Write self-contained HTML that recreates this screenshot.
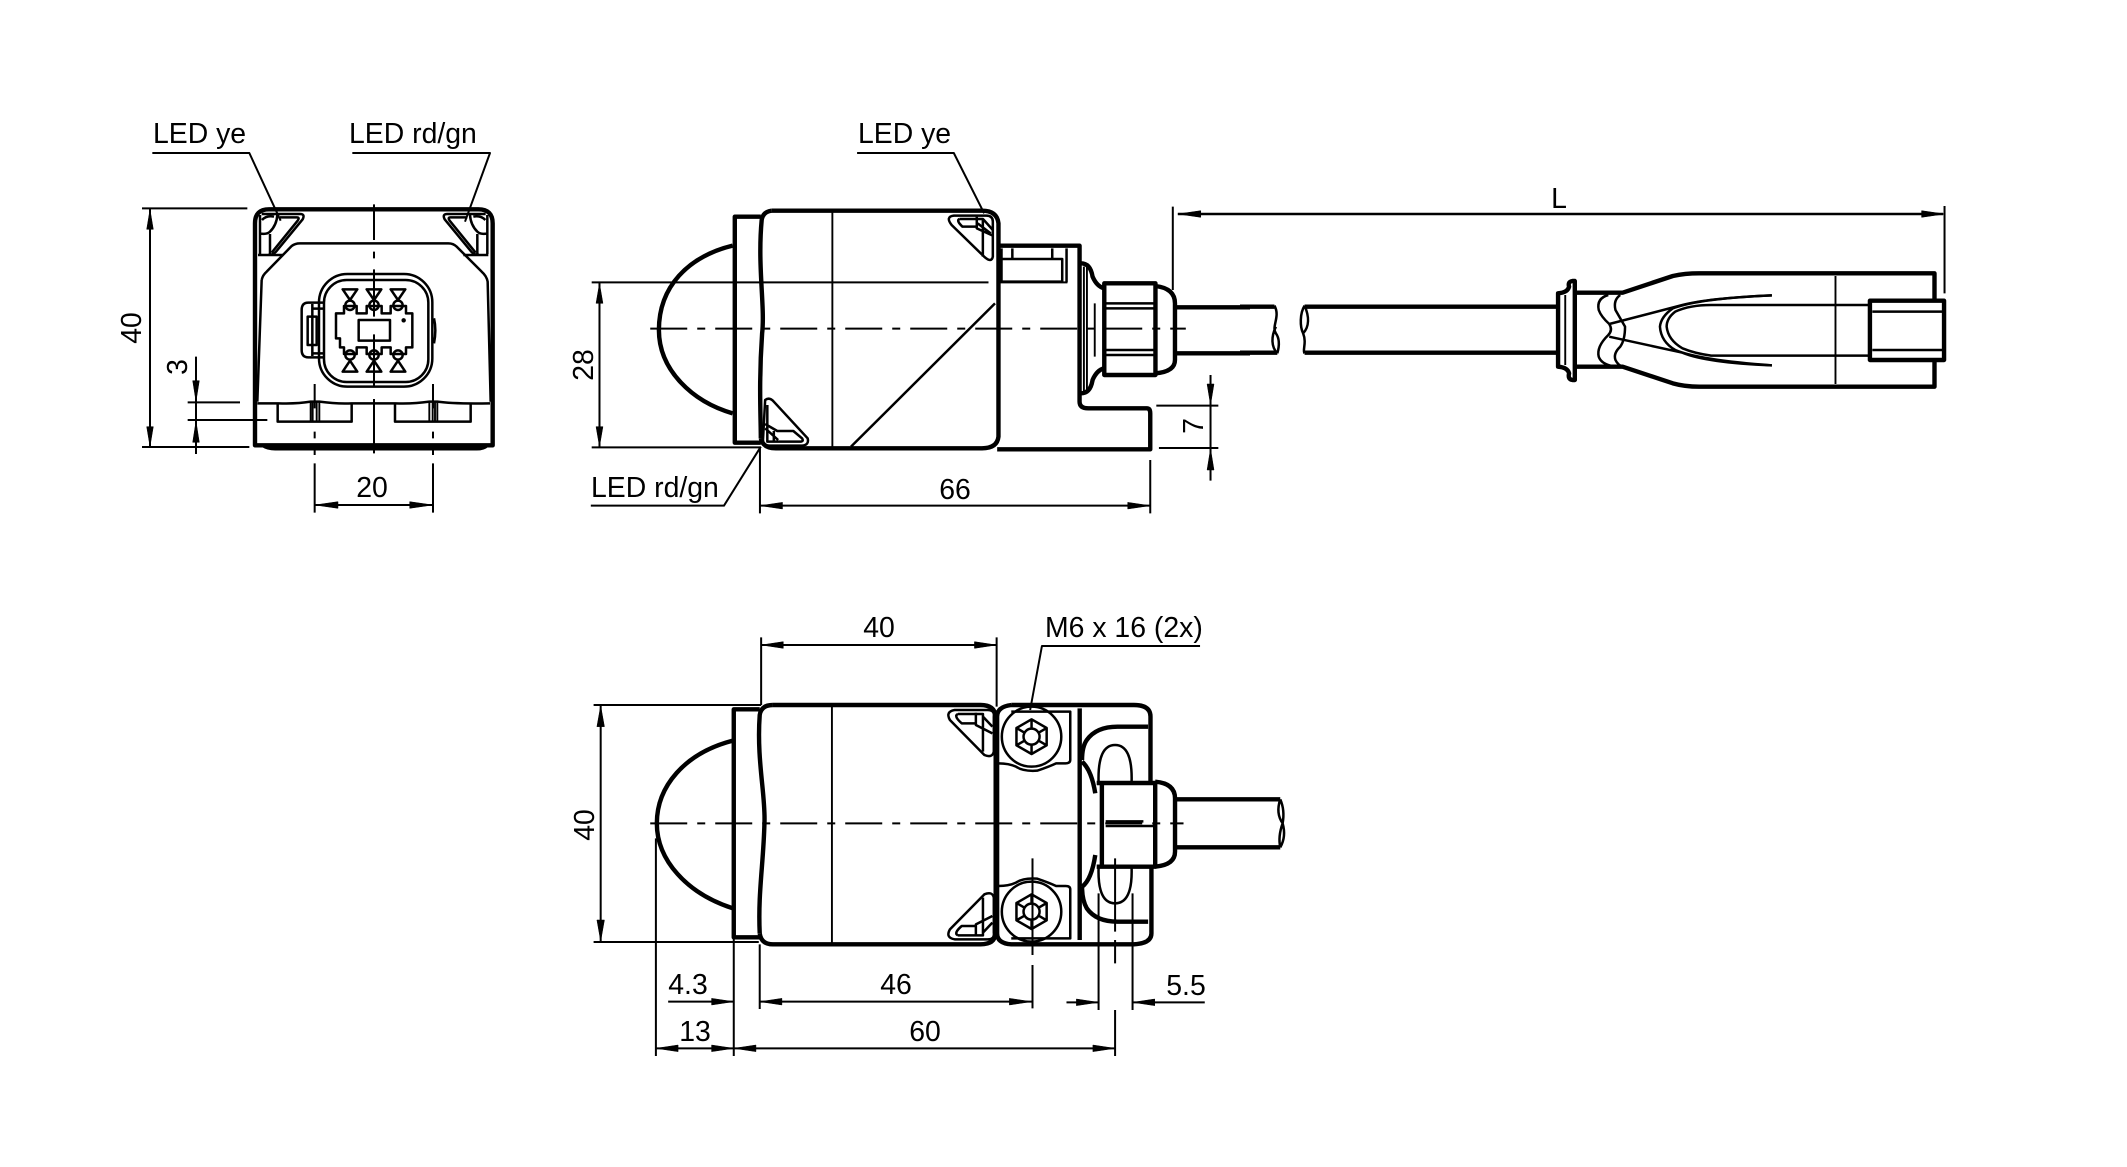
<!DOCTYPE html>
<html><head><meta charset="utf-8"><style>
html,body{margin:0;padding:0;background:#fff}
svg{display:block}
path,rect,ellipse,line{vector-effect:non-scaling-stroke;fill:none;stroke:#000;stroke-linejoin:round}
.k{stroke-width:4.4}
.m{stroke-width:2.5}
.t{stroke-width:1.9}
.d{stroke-width:2}
.a{fill:#000;stroke:#000;stroke-width:.5}
text{font-family:"Liberation Sans",sans-serif;font-size:28.4px;fill:#000}
</style></head><body>
<svg width="2127" height="1167" viewBox="0 0 2127 1167" xmlns="http://www.w3.org/2000/svg">
<rect x="0" y="0" width="2127" height="1167" style="fill:#fff;stroke:none"/>

<!-- FRONT VIEW -->
<g transform="translate(120,100) scale(.33333)">
<path class="k" d="M405,1036V370Q405,328 447,328H1075Q1118,328 1118,370V1036Z"/>
<path class="k" d="M430,1036Q445,1046 470,1045H1070Q1090,1045 1100,1036"/>
<path class="m" d="M414,465H490M1030,465H1105"/>
<path class="m" d="M425,540Q428,525 440,515L515,438Q525,430 540,430H985Q1000,430 1010,440L1085,515Q1100,528 1103,545L1112,905M425,540L412,905"/>
<path class="m" d="M412,910H475Q530,912 572,905H598Q650,912 695,910H825Q880,912 928,905H952Q1000,912 1110,910"/>
<path class="m" d="M473,912V965H695V912M825,912V965H1052V912"/>
<path class="t" d="M572,905V962M578,905V962M590,905V962M598,905V962M928,905V962M938,905V962M945,905V962M952,905V962"/>
<!-- LED corner triangles -->
<path class="m" d="M425,342H540Q556,342 548,358L468,455Q458,466 445,464"/>
<path class="m" d="M480,352H530Q540,352 533,362L455,458"/>
<path class="m" d="M420,345V462M450,402V462M418,400Q440,405 450,395Q470,375 472,345M426,360Q440,345 462,350"/>
<path class="m" d="M1097,342H982Q966,342 974,358L1054,455Q1064,466 1077,464"/>
<path class="m" d="M1042,352H992Q982,352 989,362L1067,458"/>
<path class="m" d="M1102,345V462M1072,402V462M1104,400Q1082,405 1072,395Q1052,375 1050,345M1096,360Q1082,345 1060,350"/>
<!-- connector -->
<rect class="m" x="597" y="522" width="340" height="338" rx="85" ry="85"/>
<rect class="m" x="612" y="540" width="313" height="306" rx="68" ry="68"/>
<path class="m" d="M612,608H565Q545,608 545,630V750Q545,772 565,772H612"/>
<path class="m" d="M577,612V768M577,626H610M577,760H610M563,650H590V735H563Z"/>
<path class="m" d="M942,655Q950,690 942,730"/>
<path class="m" d="M668,568H712L690,600ZM740,568H784L762,600ZM812,568H856L834,600ZM668,815H712L690,782ZM740,815H784L762,782ZM812,815H856L834,782Z"/>
<ellipse class="m" cx="690" cy="616" rx="14" ry="14"/><ellipse class="m" cx="762" cy="616" rx="14" ry="14"/><ellipse class="m" cx="834" cy="616" rx="14" ry="14"/>
<ellipse class="m" cx="690" cy="765" rx="14" ry="14"/><ellipse class="m" cx="762" cy="765" rx="14" ry="14"/><ellipse class="m" cx="834" cy="765" rx="14" ry="14"/>
<path class="m" d="M648,640H672V618H710V640H740V618H785V640H812V618H858V640H877V742H858V762H812V742H785V762H740V742H710V762H672V742H660V715H648Z"/>
<rect class="m" x="716" y="660" width="94" height="62"/>
<ellipse cx="851" cy="661" rx="6" ry="6" class="a"/>
<!-- centre lines -->
<path class="d" d="M762,313V420M762,455V475M762,508V650M762,703V860M762,897V1060"/>
<path class="d" d="M584,852V925M584,995V1015M584,1045V1065M939,852V925M939,995V1015M939,1045V1065"/>
<!-- dims -->
<path class="d" d="M97,159H388L482,362M697,159H1110L1035,365"/>
<path class="d" d="M66,325H382M66,1041H388M90,328V1040"/>
<path class="a" d="M90,328L80,388H100ZM90,1040L80,980H100Z"/>
<path class="d" d="M228,770V1062M203,907H360M203,960H442"/>
<path class="a" d="M228,905L218,842H238ZM228,963L218,1027H238Z"/>
<path class="d" d="M584,1090V1238M939,1090V1238M584,1215H939"/>
<path class="a" d="M584,1215L654,1205V1225ZM939,1215L869,1205V1225Z"/>
</g>

<!-- SIDE VIEW -->
<g transform="translate(570,100) scale(.43367,.33333)">
<path class="k" d="M465,332H950Q985,332 988,370V1010Q985,1045 950,1045H475Q445,1045 440,1015"/>
<path class="k" d="M465,332Q445,335 442,360C432,500 450,620 443,700C435,850 440,950 440,1015"/>
<path class="k" d="M440,350H380V1028H440"/>
<path class="k" d="M375,437C272,470 205,560 205,690C205,810 282,905 375,940"/>
<path class="t" d="M605,332V1040"/>
<path class="m" d="M648,1040L980,610"/>
<path class="k" d="M988,437H1175V905Q1175,925 1195,925H1330Q1338,925 1338,940V1048H985"/>
<path class="m" d="M995,477H1135V545H995V445M1020,445V477M1112,445V477M1145,445V547"/>
<path class="k" d="M1178,490Q1200,490 1205,530Q1215,560 1232,565M1178,880Q1200,880 1205,840Q1215,810 1232,805"/>
<path class="t" d="M1185,500V875M1192,500V875M1210,610V770"/>
<rect class="k" x="1232" y="550" width="118" height="275"/>
<path class="m" d="M1232,610H1350M1232,625H1350M1232,750H1350M1232,765H1350"/>
<path class="k" d="M1350,558Q1395,565 1395,610V780Q1395,815 1350,820"/>
<path class="k" d="M1395,622H1568M1395,760H1568"/>
<!-- LEDs -->
<path class="m" d="M885,347H960Q975,347 975,365V470Q972,490 955,470L880,375Q865,350 885,347Z"/>
<path class="m" d="M898,357H952V470M898,357Q890,362 905,380H938M938,350V385L975,407M953,358L975,390M940,370L970,400"/>
<path class="m" d="M450,900Q460,890 470,905L548,1015Q552,1035 535,1037H460Q445,1037 445,1020Z"/>
<path class="m" d="M455,915V1025H530Q540,1025 535,1015L515,993H478L450,972M470,993V1025M450,985L480,1020"/>
<!-- centre line -->
<path class="d" stroke-dasharray="37 10 8 10" d="M185,686H1420"/>
<!-- dims -->
<path class="d" d="M50,547H965M990,547H1147M50,1042H440M68,547V1042"/>
<path class="a" d="M68,550L60,610H76ZM68,1040L60,980H76Z"/>
<path class="d" d="M662,159H885L955,340"/>
<path class="d" d="M48,1217H355L440,1040M438,1040V1240M1338,1080V1240M438,1217H1338"/>
<path class="a" d="M438,1217L490,1207V1227ZM1338,1217L1286,1207V1227Z"/>
<path class="d" d="M1390,320V570"/>
<path class="d" d="M1477,825V1142M1352,917H1495M1358,1044H1495"/>
<path class="a" d="M1477,915L1469,852H1485ZM1477,1046L1469,1110H1485Z"/>
</g>

<!-- CABLE END -->
<g transform="translate(1240,170) scale(.4783,.33333)">
<path class="m" d="M-130,132H1470"/>
<path class="a" d="M1473,132L1425,122V142Z"/>
<path class="a" d="M-130,132L-82,122V142Z"/>
<path class="d" d="M1473,108V370"/>
<path class="k" d="M0,410H72M0,548H78M135,410H665M135,548H665"/>
<path class="m" d="M72,407C85,440 65,470 75,490C85,510 80,540 78,550M75,470C65,500 65,530 78,550"/>
<path class="m" d="M135,407C125,430 125,470 132,490C140,520 130,540 135,550M135,407C145,440 145,470 132,490"/>
<path class="k" d="M695,333Q685,335 688,350Q685,368 665,370V590Q685,592 688,610Q685,628 695,630H700V333Z"/>
<path class="t" d="M680,375V585"/>
<path class="k" d="M700,368H800L905,318Q930,310 960,310H1452V388M700,590H800L905,640Q930,650 960,650H1452V570"/>
<path class="m" d="M770,375Q745,385 750,420Q755,440 772,462Q780,480 770,495Q745,530 750,560Q755,580 775,587"/>
<path class="m" d="M795,375Q780,390 785,420Q795,445 805,470Q805,510 795,530Q780,550 785,570Q790,585 800,590"/>
<path class="m" d="M772,462L925,405Q975,385 1112,376M772,500L925,548Q975,578 1112,586"/>
<path class="m" d="M1112,376Q960,385 905,415Q880,440 878,470Q880,515 910,540Q960,570 1112,586"/>
<path class="m" d="M1315,405H985Q940,405 910,425Q892,445 892,470Q895,510 925,535Q950,550 985,557H1315"/>
<path class="t" d="M1245,318V642"/>
<rect class="k" x="1317" y="392" width="155" height="178"/>
<path class="m" d="M1322,425H1468M1322,540H1468"/>
</g>

<!-- BOTTOM VIEW -->
<g transform="translate(570,610) scale(.47194,.33333)">
<path class="k" d="M430,285H870Q900,285 902,320V970Q900,1003 870,1003H430Q405,1003 402,970"/>
<path class="k" d="M430,285Q405,285 402,315C395,450 415,560 412,640C410,760 398,850 402,970"/>
<path class="k" d="M402,298H347V982H402"/>
<path class="k" d="M345,392C242,430 184,530 184,640C184,750 247,850 345,895"/>
<path class="t" d="M555,285V1000"/>
<path class="k" d="M935,285Q905,290 905,320V970Q905,1000 935,1003H1195Q1232,1000 1232,970V770M935,285H1195Q1230,285 1230,320V515"/>
<path class="k" d="M1080,295V990"/>
<path class="m" d="M935,305H1060V450Q1060,460 1050,460H1030Q1015,470 990,482Q960,485 945,470Q930,460 908,460"/>
<path class="m" d="M935,985H1060V838Q1060,828 1050,828H1030Q1015,818 990,806Q960,803 945,818Q930,828 908,828"/>
<ellipse class="m" cx="978" cy="380" rx="63" ry="90"/>
<ellipse class="m" cx="978" cy="905" rx="63" ry="90"/>
<path class="m" d="M978,328L1010,354V406L978,432L946,406V354ZM978,328V356M1010,354L993,368M1010,406L993,392M978,432V404M946,406L963,392M946,354L963,368"/>
<ellipse class="m" cx="978" cy="380" rx="17" ry="24"/>
<path class="m" d="M978,853L1010,879V931L978,957L946,931V879ZM978,853V881M1010,879L993,893M1010,931L993,917M978,957V929M946,931L963,917M946,879L963,893"/>
<ellipse class="m" cx="978" cy="905" rx="17" ry="24"/>
<path class="k" d="M1225,350H1160Q1115,350 1095,390Q1085,410 1085,450M1225,935H1160Q1115,935 1095,895Q1085,870 1085,830"/>
<path class="k" d="M1085,455Q1105,480 1113,550M1085,830Q1105,810 1113,735"/>
<path class="m" d="M1120,515Q1118,405 1155,405Q1192,405 1190,515M1120,775Q1118,880 1155,880Q1192,880 1190,775"/>
<path class="k" d="M1116,519H1240V770H1116M1127,519V770"/>
<path class="k" d="M1135,634H1215M1135,648H1240" style="stroke-width:2.5"/>
<path class="k" d="M1240,515Q1282,520 1282,565V725Q1282,765 1240,770"/>
<path class="k" d="M1282,568H1505M1282,712H1505"/>
<path class="m" d="M1505,568Q1515,600 1510,640Q1500,680 1505,712M1505,568Q1495,610 1510,640Q1518,680 1505,712"/>
<!-- LEDs -->
<path class="m" d="M815,300H885Q900,300 898,320V425Q895,445 878,435L805,330Q795,305 815,300Z"/>
<path class="m" d="M822,312H875V425M822,312Q812,318 830,340H860M860,308V345L895,370M875,320L895,350"/>
<g transform="translate(0,1288) scale(1,-1)">
<path class="m" d="M815,300H885Q900,300 898,320V425Q895,445 878,435L805,330Q795,305 815,300Z"/>
<path class="m" d="M822,312H875V425M822,312Q812,318 830,340H860M860,308V345L895,370M875,320L895,350"/>
</g>
<!-- centre lines -->
<path class="d" stroke-dasharray="37 10 8 10" d="M170,640H1300"/>
<path class="d" d="M980,745V1035M980,1065V1195M1155,745V965M1155,990V1060M1155,1200V1338"/>
<!-- dims -->
<path class="d" d="M405,82V285M904,82V290M405,105H904"/>
<path class="a" d="M405,105L452,95V115ZM904,105L857,95V115Z"/>
<path class="d" d="M50,285H405M50,996H400M65,285V996"/>
<path class="a" d="M65,287L57,350H73ZM65,994L57,930H73Z"/>
<path class="d" d="M1335,108H1000L975,300"/>
<path class="d" d="M1120,850V1200M1192,850V1200M1052,1177H1120M1192,1177H1345"/>
<path class="a" d="M1120,1177L1073,1167V1187ZM1192,1177L1239,1167V1187Z"/>
<path class="d" d="M402,1003V1197M402,1175H978M208,1175H347M347,985V1338M182,685V1338M182,1315H1155"/>
<path class="a" d="M402,1175L449,1165V1185ZM978,1175L931,1165V1185ZM347,1175L300,1165V1185ZM182,1315L229,1305V1325ZM347,1315L300,1305V1325ZM347,1315L394,1305V1325ZM1155,1315L1108,1305V1325Z"/>
</g>

<!-- TEXT -->
<text x="153" y="143">LED ye</text>
<text x="349" y="143">LED rd/gn</text>
<text transform="translate(141,328) rotate(-90)" text-anchor="middle">40</text>
<text transform="translate(187,367) rotate(-90)" text-anchor="middle">3</text>
<text x="372" y="497" text-anchor="middle">20</text>
<text x="858" y="143">LED ye</text>
<text x="591" y="497">LED rd/gn</text>
<text transform="translate(593,365) rotate(-90)" text-anchor="middle">28</text>
<text x="955" y="499" text-anchor="middle">66</text>
<text transform="translate(1203,426) rotate(-90)" text-anchor="middle">7</text>
<text x="1559" y="208" text-anchor="middle">L</text>
<text x="879" y="637" text-anchor="middle">40</text>
<text x="1045" y="637">M6 x 16 (2x)</text>
<text transform="translate(594,825) rotate(-90)" text-anchor="middle">40</text>
<text x="688" y="994" text-anchor="middle">4.3</text>
<text x="896" y="994" text-anchor="middle">46</text>
<text x="1186" y="995" text-anchor="middle">5.5</text>
<text x="695" y="1041" text-anchor="middle">13</text>
<text x="925" y="1041" text-anchor="middle">60</text>
</svg>
</body></html>
